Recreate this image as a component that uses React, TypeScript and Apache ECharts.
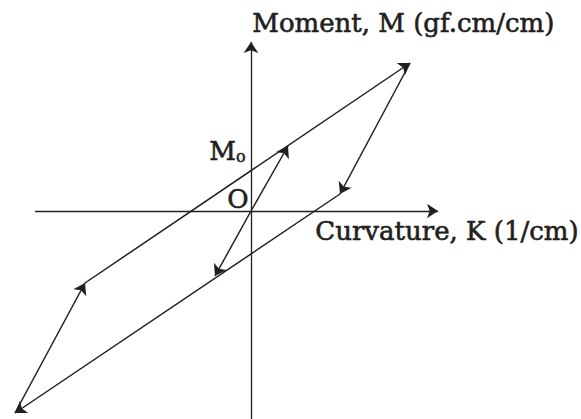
import React, { useEffect, useRef } from "react";
import * as echarts from "echarts";

// Key points of the moment–curvature loop (K, M) in plot units
const origin: [number, number] = [0, 0];
const innerUpper: [number, number] = [3.7, 6.5];
const innerLower: [number, number] = [-3.6, -6.5];
const topCorner: [number, number] = [15.9, 14.8];
const rightCorner: [number, number] = [8.9, 1.7];
const bottomCorner: [number, number] = [-23.6, -20.2];
const leftCorner: [number, number] = [-16.6, -7.2];

// Axis extents
const kAxisRange: [number, number] = [-21.6, 18.7];
const mAxisRange: [number, number] = [-20.8, 16.9];

// Arrowed segments: [from, to]
const loopSegments: [[number, number], [number, number]][] = [
  [origin, innerUpper],
  [origin, innerLower],
  [leftCorner, topCorner],
  [topCorner, rightCorner],
  [rightCorner, bottomCorner],
  [bottomCorner, leftCorner],
];

const axisSegments: [[number, number], [number, number]][] = [
  [[kAxisRange[0], 0], [kAxisRange[1], 0]],
  [[0, mAxisRange[0]], [0, mAxisRange[1]]],
];

const INK = "#231f20";
const FONT = "'DejaVu Serif', 'Liberation Serif', serif";
const labelStyle = (text: string) => ({
  text,
  font: `26px ${FONT}`,
  fill: INK,
  stroke: INK,
  lineWidth: 0.6,
});

export default function App() {
  const ref = useRef<HTMLDivElement>(null);

  useEffect(() => {
    if (!ref.current) return;
    const chart = echarts.init(ref.current, null, { renderer: "svg" });
    const toLines = (segs: [[number, number], [number, number]][]) =>
      segs.map((s) => ({ coords: [s[0], s[1]] }));

    chart.setOption({
      animation: false,
      backgroundColor: "#ffffff",
      grid: { left: 0, right: 0, top: 0, bottom: 0 },
      xAxis: { type: "value", min: -25.1, max: 33.0, show: false },
      yAxis: { type: "value", min: -20.8, max: 21.1, show: false },
      series: [
        {
          type: "lines",
          coordinateSystem: "cartesian2d",
          symbol: ["none", "arrow"],
          symbolSize: [6, 11],
          lineStyle: { color: INK, width: 1.3, opacity: 1 },
          data: toLines(axisSegments),
          silent: true,
        },
        {
          type: "lines",
          coordinateSystem: "cartesian2d",
          symbol: ["none", "arrow"],
          symbolSize: [6, 11],
          lineStyle: { color: INK, width: 1.5, opacity: 1 },
          data: toLines(loopSegments),
          silent: true,
        },
      ],
      graphic: [
        { type: "text", left: 252, top: 10, style: labelStyle("Moment, M (gf.cm/cm)") },
        { type: "text", left: 315, top: 218, style: labelStyle("Curvature, K (1/cm)") },
        { type: "text", left: 227, top: 186, style: labelStyle("O") },
        {
          type: "text",
          left: 209,
          top: 138,
          style: {
            text: "{m|M}{s|o}",
            rich: {
              m: { font: `26px ${FONT}`, fill: INK, stroke: INK, lineWidth: 0.6 },
              s: {
                font: `16px ${FONT}`,
                fill: INK,
                stroke: INK,
                lineWidth: 0.5,
                verticalAlign: "bottom",
                padding: [10, 0, 0, 0],
              },
            },
          },
        },
      ],
    });
    return () => chart.dispose();
  }, []);

  return (
    <div
      ref={ref}
      style={{ position: "fixed", left: 0, top: 0, width: 581, height: 419 }}
    />
  );
}
